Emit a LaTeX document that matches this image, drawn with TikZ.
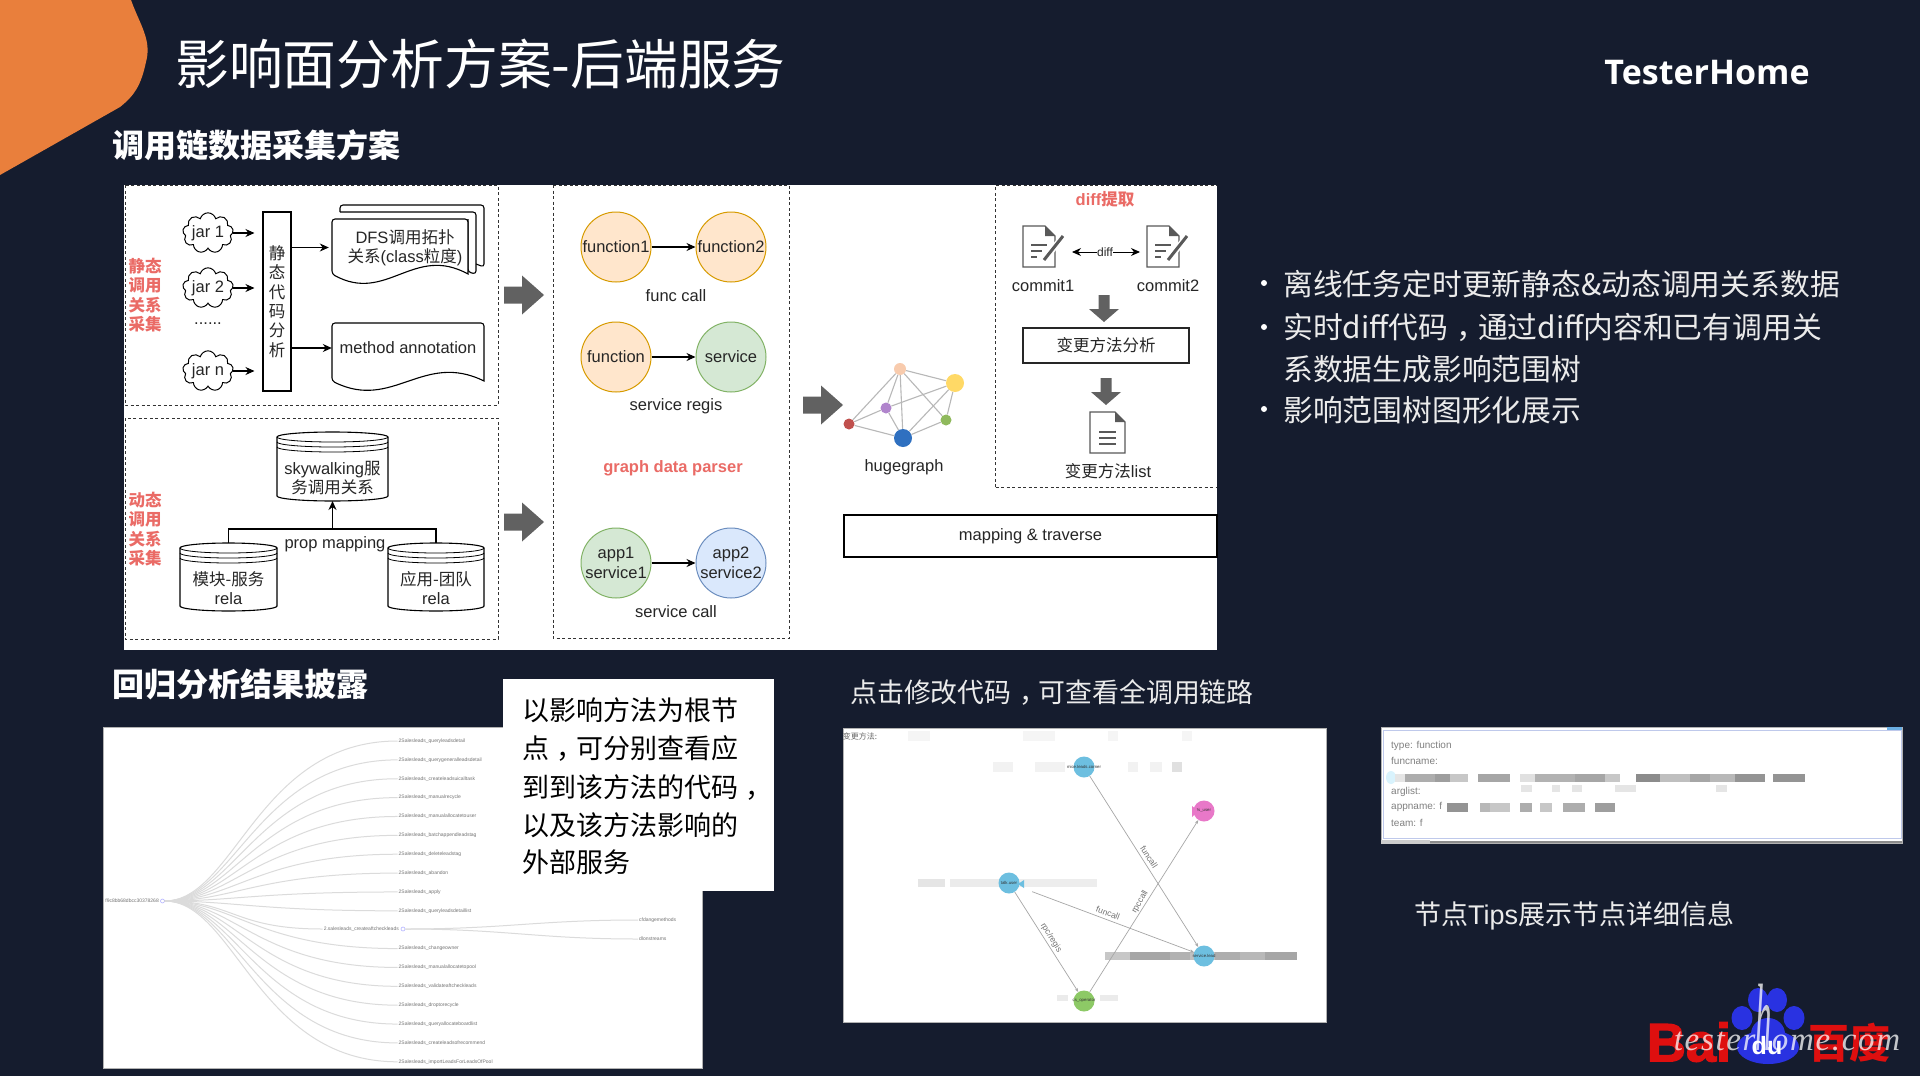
\documentclass[tikz,border=0pt]{standalone}
\usepackage{fontspec}
\usepackage{graphicx}
\usepackage{xcolor}
\usepackage{tikz}
\usetikzlibrary{arrows.meta, shapes.symbols}
\setmainfont{Liberation Sans}
\newfontfamily\cjk{Noto Sans CJK SC}
\newfontfamily\wmfont[LetterSpace=5]{Liberation Serif}
\newfontfamily\baifont[BoldFeatures={FakeBold=2.5}]{Liberation Sans}
\definecolor{slidebg}{HTML}{151C2E}
\definecolor{accent}{HTML}{E97F3C}
\definecolor{redlab}{HTML}{EA6B66}
\definecolor{baidured}{HTML}{DE0F0F}
\definecolor{baidublue}{HTML}{2932E1}
\definecolor{chainblue}{HTML}{6DBFE0}
\definecolor{chainpink}{HTML}{E878C8}
\definecolor{chaingreen}{HTML}{8DC966}
\newcommand\cma{\kern.28em，\kern-.28em}
\tikzset{
  sheet/.style={draw=black, line width=1.1pt, fill=white, rounded corners=3pt},
  dashbox/.style={draw=black!80, line width=1pt, dash pattern=on 3pt off 2.5pt},
  flow/.style={draw=black, line width=1.1pt, -{Stealth[length=9pt,width=8pt]}},
  lab/.style={font=\fontsize{16.5}{19.4}\selectfont, align=center, inner sep=0pt, text=black!85},
  redlab/.style={lab, text=redlab, font=\fontsize{16.5}{19.4}\selectfont\bfseries},
  ballorange/.style={circle, minimum size=70pt, inner sep=0pt, draw={rgb,255:red,215;green,155;blue,0}, line width=1pt, fill={rgb,255:red,255;green,230;blue,204}, lab},
  ballgreen/.style={ballorange, draw={rgb,255:red,130;green,179;blue,102}, fill={rgb,255:red,213;green,232;blue,212}},
  ballblue/.style={ballorange, draw={rgb,255:red,108;green,142;blue,191}, fill={rgb,255:red,218;green,232;blue,252}},
  jarcloud/.style={cloud, cloud puffs=9, aspect=1.5, draw=black, line width=1pt, minimum width=50pt, minimum height=35pt, inner sep=0pt, lab},
  gnode/.style={circle, inner sep=0pt},
  gedge/.style={draw=black!28, line width=1.1pt},
  shot/.style={fill=white, draw=black!30, line width=1pt},
  treeedge/.style={draw=black!14, line width=1pt},
  leaflab/.style={font=\fontsize{5}{6}\selectfont, text=black!55, inner sep=1pt},
  chain/.style={circle, inner sep=0pt, minimum width=20pt, minimum height=21pt},
  chaintxt/.style={font=\fontsize{4.3}{5}\selectfont, text=black!80, inner sep=0pt},
  chainedge/.style={draw=black!35, line width=.7pt, -{Stealth[length=4pt,width=3pt]}},
  chainlab/.style={font=\fontsize{8.5}{9}\selectfont, text=black!55, inner sep=0pt},
  tiplab/.style={font=\fontsize{10}{11}\selectfont, text=black!50, inner sep=0pt, anchor=west},
  slidetxt/.style={font=\cjk\fontsize{29.8}{30}\selectfont, text=white!92!black, inner sep=0pt, anchor=west},
  boxtxt/.style={font=\cjk\fontsize{27}{27}\selectfont, text=black, inner sep=0pt, anchor=west},
  captxt/.style={font=\cjk\fontsize{26.9}{27}\selectfont, text=white!92!black, inner sep=0pt, anchor=west},
  headtxt/.style={font=\cjk\bfseries\fontsize{32}{32}\selectfont, text=white, inner sep=0pt, anchor=west}
}
\newcommand\dbstack[4]{
  \draw[line width=1.1pt, fill=white] (#1,#2+5) -- (#1,#4-5) arc[start angle=180, end angle=0, x radius={(#3-#1)/2}, y radius=5] -- (#3,#2+5) arc[start angle=0, end angle=-180, x radius={(#3-#1)/2}, y radius=5] -- cycle;
  \foreach \d in {5,10,15}
    \draw[line width=.8pt] (#1,#2+\d) arc[start angle=180, end angle=0, x radius={(#3-#1)/2}, y radius=5];
}
\newcommand\wavesheet[4]{
  \draw[sheet] (#1,#4-9) [sharp corners] .. controls (#1+.4*#3-.4*#1,#4+21) and (#1+.6*#3-.6*#1,#4-39) .. (#3,#4-9) [rounded corners=3pt] -- (#3,#2) -- (#1,#2) -- cycle;
}
\newcommand\pagefold[4]{
  \draw[draw=black!65, line width=1.3pt, fill=white] (#1,#2) -- (#1+#3-10,#2) -- (#1+#3,#2+10) -- (#1+#3,#2+#4) -- (#1,#2+#4) -- cycle;
  \fill[black!65] (#1+#3-10,#2) -- (#1+#3,#2+10) -- (#1+#3-10,#2+10) -- cycle;
}
\newcommand\editicon[2]{
  \pagefold{#1}{#2}{32}{41}
  \draw[black!65, line width=1.2pt] (#1+8,#2+19) -- (#1+24,#2+19) (#1+8,#2+25) -- (#1+19,#2+25) (#1+8,#2+31) -- (#1+14,#2+31);
  \draw[white, line width=6pt] (#1+20,#2+36) -- (#1+40,#2+10);
  \draw[black!65, line width=3pt] (#1+21,#2+34) -- (#1+40,#2+10);
}
\newcommand\rightblock[2]{
  \fill[black!62] (#1,#2-8.5) -- (#1+18,#2-8.5) -- (#1+18,#2-19.5) -- (#1+40,#2) -- (#1+18,#2+19.5) -- (#1+18,#2+8.5) -- (#1,#2+8.5) -- cycle;
}
\newcommand\downblock[2]{
  \fill[black!62] (#1-5.5,#2) -- (#1-5.5,#2+14) -- (#1-15,#2+14) -- (#1,#2+27) -- (#1+15,#2+14) -- (#1+5.5,#2+14) -- (#1+5.5,#2) -- cycle;
}
\begin{document}
\begin{tikzpicture}[x=1pt, y=-1pt]
\useasboundingbox (0,0) rectangle (1920,1076);
\fill[slidebg] (0,0) rectangle (1920,1076);
\fill[accent] (0,0) -- (131,0) .. controls (140,25) and (152,40) .. (146,62) .. controls (141,85) and (135,95) .. (120,107) -- (0,175) -- cycle;

\node(title)[inner sep=0pt, anchor=west, text=white, font=\cjk\fontsize{53.8}{54}\selectfont] at (175,64) {影响面分析方案-后端服务};
\node(brand)[inner sep=0pt, text=white, font=\fontspec{Open Sans}\bfseries\fontsize{34}{35}\selectfont] at (1707,73) {TesterHome};
\node(headchain)[headtxt] at (112,145) {调用链数据采集方案};
\node(headreg)[headtxt] at (112,684) {回归分析结果披露};

\fill[white] (124,185) rectangle (1217,650);
\draw[dashbox] (125,185) rectangle (498,405);
\draw[dashbox] (125,418) rectangle (498,639);
\draw[dashbox] (553,185) rectangle (789,638);
\draw[dashbox] (995.5,487) -- (995.5,185) -- (1217,185) (995.5,487) -- (1217,487);

\node(redstatic)[redlab] at (145,295) {\cjk 静态\\\cjk 调用\\\cjk 关系\\\cjk 采集};
\node(reddynamic)[redlab] at (145,529) {\cjk 动态\\\cjk 调用\\\cjk 关系\\\cjk 采集};

\node(codebox)[draw=black, line width=1.1pt, minimum width=28pt, minimum height=179pt, inner sep=0pt, lab, font=\cjk\fontsize{16.5}{19.4}\selectfont] at (277,301.5) {静\\态\\代\\码\\分\\析};
\node(jar1)[jarcloud] at (208,233) {jar 1};
\node(jar2)[jarcloud] at (208,288) {jar 2};
\node(jardots)[lab] at (208,324) {......};
\node(jarn)[jarcloud] at (208,371) {jar n};
\foreach \j in {jar1,jar2,jarn}
  \draw[flow, shorten >=8pt] (\j.east) -- (\j.east -| codebox.west);

\draw[sheet] (340,212) -- (340,205) -- (484,205) -- (484,267) -- (476,264);
\draw[sheet] (340,212) -- (476,212) -- (476,274) -- (468,272) -- (468,219);
\wavesheet{332}{219}{468}{283}
\node(dfsdoc)[lab, minimum width=152pt] at (405,247.5) {DFS{\cjk 调用拓扑}\\{\cjk 关系}(class{\cjk 粒度})};
\wavesheet{332}{323}{484}{390}
\node(methoddoc)[lab, minimum width=152pt] at (408,348) {method annotation};
\draw[flow] (codebox.east |- dfsdoc) -- (dfsdoc.west);
\draw[flow] (codebox.east |- methoddoc) -- (methoddoc.west);

\dbstack{277}{432}{388}{501}
\node(skydb)[lab] at (332.5,478) {skywalking{\cjk 服}\\{\cjk 务调用关系}};
\dbstack{180}{543}{277}{611}
\node(moddb)[lab] at (228.5,588) {{\cjk 模块-服务}\\rela};
\dbstack{388}{543}{484}{611}
\node(appdb)[lab] at (436,588) {{\cjk 应用-团队}\\rela};
\coordinate(mapjoin) at (332.5,529);
\coordinate(skybottom) at (332.5,501);
\coordinate(modtop) at (228.5,543);
\coordinate(apptop) at (436,543);
\draw[line width=1.1pt] (modtop) |- (apptop |- mapjoin) -- (apptop);
\draw[flow] (mapjoin) -- (skybottom);
\node(propmap)[lab] at (335,544) {prop mapping};

\rightblock{504}{295}
\rightblock{504}{522}
\rightblock{803}{405}

\node(fone)[ballorange] at (616,247) {function1};
\node(ftwo)[ballorange] at (731,247) {function2};
\node(funcs)[ballorange] at (616,357) {function};
\node(svc)[ballgreen] at (731,357) {service};
\node(appone)[ballgreen] at (616,563) {app1\\service1};
\node(apptwo)[ballblue] at (731,563) {app2\\service2};
\draw[flow] (fone) -- (ftwo);
\draw[flow] (funcs) -- (svc);
\draw[flow] (appone) -- (apptwo);
\node(labfunc)[lab] at (676,296) {func call};
\node(labregis)[lab] at (676,406) {service regis};
\node(labparser)[redlab] at (673,468) {graph data parser};
\node(labcall)[lab] at (676,612) {service call};

\node(gpeach)[gnode, fill={rgb,255:red,248;green,203;blue,173}, minimum size=12pt] at (900,369) {};
\node(gyellow)[gnode, fill={rgb,255:red,255;green,217;blue,102}, minimum size=18pt] at (955,383) {};
\node(gpurple)[gnode, fill={rgb,255:red,176;green,132;blue,204}, minimum size=11pt] at (886,408) {};
\node(ggreen)[gnode, fill={rgb,255:red,143;green,185;blue,92}, minimum size=11pt] at (946,420) {};
\node(gred)[gnode, fill={rgb,255:red,192;green,80;blue,77}, minimum size=11pt] at (849,424) {};
\node(gblue)[gnode, fill={rgb,255:red,47;green,112;blue,192}, minimum size=18pt] at (903,438) {};
\foreach \a/\b in {gpeach/gyellow,gpeach/gred,gpeach/gpurple,gpeach/gblue,gpeach/ggreen,gyellow/gpurple,gyellow/gblue,gyellow/ggreen,gpurple/gred,gpurple/gblue,gred/gblue,gblue/ggreen}
  \draw[gedge] (\a) -- (\b);
\node(labgraph)[lab] at (904,467) {hugegraph};

\node(labdiffx)[redlab] at (1105,199) {diff{\cjk 提取}};
\editicon{1023}{226}
\editicon{1147}{226}
\node(difflab)[lab, font=\fontsize{12}{14}\selectfont] at (1105,252) {diff};
\coordinate(diffleft) at (1072,252);
\coordinate(diffright) at (1140,252);
\draw[flow, line width=1pt] (difflab) -- (diffleft);
\draw[flow, line width=1pt] (difflab) -- (diffright);
\node(labcommita)[lab] at (1043,286) {commit1};
\node(labcommitb)[lab] at (1168,286) {commit2};
\downblock{1104}{295}
\node(changebox)[draw=black!85, line width=1.4pt, minimum width=166pt, minimum height=35pt, inner sep=0pt, lab, font=\cjk\fontsize{16.5}{19.4}\selectfont] at (1106,345.5) {变更方法分析};
\downblock{1106}{378}
\pagefold{1090}{412}{35}{41}
\foreach \l in {432,438,444}
  \draw[black!65, line width=1.2pt] (1099,\l) -- (1116,\l);
\node(changelist)[lab] at (1108,471) {{\cjk 变更方法}list};
\node(mapbox)[draw=black, line width=1.2pt, minimum width=373pt, minimum height=42pt, inner sep=0pt, lab] at (1030.5,536) {mapping \& traverse};

\foreach \y in {283,327,409}
  \fill[white] (1264,\y) circle (3);
\node(bulla)[slidetxt] at (1283,284) {离线任务定时更新静态\&动态调用关系数据};
\node(bullb)[slidetxt] at (1283,327) {实时diff代码\cma 通过diff内容和已有调用关};
\node(bullc)[slidetxt] at (1283,369) {系数据生成影响范围树};
\node(bulld)[slidetxt] at (1283,410) {影响范围树图形化展示};

\fill[shot] (103,727) rectangle (702,1068);
\node(treeroot)[circle, draw=blue!30, line width=.6pt, fill=white, minimum size=4pt, inner sep=0pt] at (162.5,901) {};
\node(rootlab)[leaflab, anchor=east] at (160,901) {f9c8bb68dbcc30378268};
\node(treemid)[circle, draw=blue!30, line width=.6pt, fill=white, minimum size=4pt, inner sep=0pt] at (403,929) {};
\node(midlab)[leaflab, anchor=east] at (400,929) {2.salesleads\_createaftcheckleads};
\foreach \i/\t in {0/queryleadsdetail,1/querygeneralleadsdetail,2/createleadsuicalltask,3/manualrecycle,4/manualallocatetouser,5/batchappendleadstag,6/deleteleadstag,7/abandon,8/apply,9/queryleadsdetaillist,11/changeowner,12/manualallocatetopool,13/validateaftcheckleads,14/droptorecycle,15/queryallocateboardlist,16/createleadsofrecommend,17/importLeadsForLeadsOfPool}{
  \node(leaf\i)[leaflab, anchor=west] at (397.5,741+18.87*\i) {2Salesleads\_\t};
  \draw[treeedge] (treeroot.east) .. controls +(70,0) and +(-140,0) .. (leaf\i.west);
}
\draw[treeedge] (treeroot.east) .. controls +(70,0) and +(-90,0) .. (midlab.west);
\node(leafa)[leaflab, anchor=west] at (638,920) {cfdangemethods};
\node(leafb)[leaflab, anchor=west] at (638,939) {dlonstreams};
\draw[treeedge] (treemid.east) .. controls +(100,0) and +(-100,0) .. (leafa.west);
\draw[treeedge] (treemid.east) .. controls +(100,0) and +(-100,0) .. (leafb.west);

\fill[white] (503,679) rectangle (774,891);
\foreach \y/\t in {710/以影响方法为根节,748/点\cma 可分别查看应,788/到到该方法的代码\cma,825/以及该方法影响的,862/外部服务}
  \node[boxtxt] at (522,\y) {\t};

\node(capchain)[captxt] at (850,692) {点击修改代码\cma 可查看全调用链路};
\fill[shot] (843,728) rectangle (1326,1022);
\foreach \xa/\xb/\ya/\yb/\g in {908/930/731/741/4,1023/1055/731/741/4,1108/1118/731/741/4,1182/1192/731/741/4,993/1013/762/772/5,1035/1065/762/772/5,1128/1138/762/772/5,1150/1162/762/772/5,1172/1182/762/772/12,918/945/879/887/10,950/1000/879/887/8,1000/1097/879/887/7,1057/1068/995/1001/8,1100/1118/995/1001/8}
  \fill[black!\g] (\xa,\ya) rectangle (\xb,\yb);
\foreach \xa/\xb/\g in {1105/1130/22,1130/1170/35,1170/1190/30,1190/1215/25,1215/1240/32,1240/1265/28,1265/1297/35}
  \fill[black!\g] (\xa,952) rectangle (\xb,960);
\node(chainhead)[chainlab, text=black!60, font=\cjk\fontsize{8}{9}\selectfont] at (860,736) {变更方法:};
\node(ctop)[chain, fill=chainblue] at (1084,767) {};
\node(cpink)[chain, fill=chainpink] at (1204,811) {};
\node(cleft)[chain, fill=chainblue] at (1009,883) {};
\node(cright)[chain, fill=chainblue] at (1204,956) {};
\node(cgreen)[chain, fill=chaingreen] at (1084,1001) {};
\node(ttop)[chaintxt] at (ctop) {mice.leads.corner};
\node(tpink)[chaintxt] at (cpink) {ts\_user};
\node(tleft)[chaintxt] at (cleft) {talk.user};
\node(tright)[chaintxt] at (cright) {service.lead};
\node(tgreen)[chaintxt] at (cgreen) {cs\_operator};
\fill[chainpink] (1192,806) -- (1198,811) -- (1192,817) -- cycle;
\fill[chainblue] (1024,880) -- (1018,884) -- (1024,888) -- cycle;
\draw[chainedge] (ctop) -- (cright);
\draw[chainedge, shorten <=14pt] (cleft) -- (cright);
\draw[chainedge] (cleft) -- (cgreen);
\draw[chainedge] (cgreen) -- (cpink);
\node(elabA)[chainlab, rotate=-57] at (1149,857) {funcall};
\node(elabB)[chainlab, rotate=60] at (1140,902) {rpccall};
\node(elabC)[chainlab, rotate=-58] at (1051,938) {rpc/regis};
\node(elabD)[chainlab, rotate=-20] at (1108,913) {funcall};

\fill[shot] (1381,727) rectangle (1902,843);
\draw[cyan!40!blue!25, line width=1pt] (1383,730) rectangle (1901,838);
\fill[cyan!70!blue!60] (1887,727) rectangle (1902,730);
\fill[white!80!black] (1381,840) rectangle (1430,844);
\fill[black!45] (1430,841) rectangle (1902,843);
\fill[cyan!15] (1391,777.5) ellipse (5 and 6.5);
\foreach \xa/\xb/\g in {1395/1405/10,1405/1435/32,1435/1450/38,1450/1468/22,1478/1510/35,1520/1535/12,1535/1575/30,1575/1605/35,1605/1620/22,1636/1660/45,1660/1690/25,1690/1710/35,1710/1735/28,1735/1765/42,1773/1805/42}
  \fill[black!\g] (\xa,774) rectangle (\xb,782);
\foreach \xa/\xb/\g in {1447/1468/42,1480/1490/28,1490/1510/22,1520/1532/32,1540/1552/22,1563/1585/32,1595/1615/38}
  \fill[black!\g] (\xa,803) rectangle (\xb,812);
\foreach \xa/\xb in {1521/1532,1552/1560,1572/1582,1615/1636,1716/1727}
  \fill[black!10] (\xa,785) rectangle (\xb,792);
\node(tiptype)[tiplab] at (1391,746) {type: function};
\node(tipname)[tiplab] at (1391,761) {funcname:};
\node(tipargs)[tiplab] at (1391,792) {arglist:};
\node(tipapp)[tiplab] at (1391,807) {appname: f};
\node(tipteam)[tiplab] at (1391,823) {team: f};
\node(captips)[captxt, font=\fontsize{27}{27}\selectfont] at (1414,916) {{\cjk 节点}Tips{\cjk 展示节点详细信息}};

\node(baibai)[inner sep=0pt, text=baidured, font=\baifont\bfseries\fontsize{54}{54}\selectfont] at (1689,1042) {Bai};
\node(baibd)[inner sep=0pt, text=baidured, font=\cjk\bfseries\fontsize{41}{41}\selectfont] at (1849,1043) {百度};
\fill[baidublue] (1758,1000) ellipse (10 and 12) (1777,1000) ellipse (10 and 12) (1742,1018) ellipse (10.5 and 12) (1794,1018) ellipse (10.5 and 12) (1768,1047) ellipse (31 and 17) (1768,1034) ellipse (17 and 16);
\node(baidu)[inner sep=0pt, text=white, font=\bfseries\fontsize{25}{25}\selectfont] at (1767,1046) {du};
\node(watermark)[inner sep=0pt, anchor=base, text=white, text opacity=.75, font=\wmfont\itshape\fontsize{33}{33}\selectfont] at (1787,1050) {tester\scalebox{1}[2.9]{h}ome.com};
\end{tikzpicture}
\end{document}
